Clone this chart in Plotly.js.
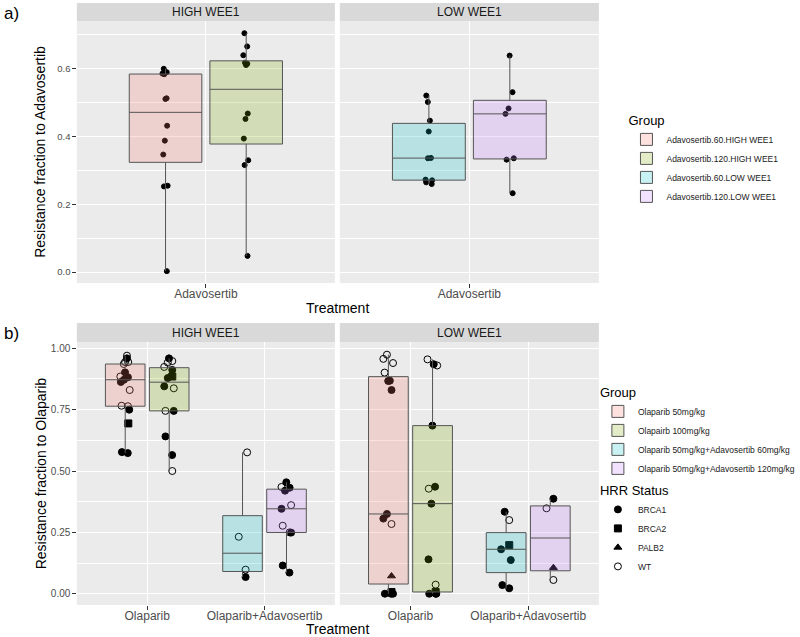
<!DOCTYPE html>
<html><head><meta charset="utf-8">
<script src="https://cdn.plot.ly/plotly-3.0.1.min.js"></script>
<style>html,body{margin:0;padding:0;background:#fff}</style>
</head><body><div id="chart" style="width:800px;height:637px"></div>
<script>
// ---------- Panel a data ----------
const aFacets = ['HIGH WEE1', 'LOW WEE1'];
const aTreatment = ['Adavosertib'];
const aGroups = ['Adavosertib.60.HIGH WEE1', 'Adavosertib.120.HIGH WEE1', 'Adavosertib.60.LOW WEE1', 'Adavosertib.120.LOW WEE1'];
const aGroupFacet = ['HIGH WEE1', 'HIGH WEE1', 'LOW WEE1', 'LOW WEE1'];
const aAdav60High = [0.600, 0.590, 0.586, 0.584, 0.513, 0.511, 0.432, 0.388, 0.347, 0.255, 0.253, 0.003];
const aAdav120High = [0.705, 0.666, 0.640, 0.618, 0.615, 0.611, 0.468, 0.452, 0.394, 0.330, 0.316, 0.048];
const aAdav60Low = [0.521, 0.502, 0.447, 0.415, 0.337, 0.336, 0.273, 0.271, 0.265, 0.260];
const aAdav120Low = [0.639, 0.531, 0.483, 0.467, 0.336, 0.332, 0.233];
const aYTicks = [0.0, 0.2, 0.4, 0.6];

// ---------- Panel b data ----------
const bFacets = ['HIGH WEE1', 'LOW WEE1'];
const bTreatments = ['Olaparib', 'Olaparib+Adavosertib'];
const bGroups = ['Olaparib 50mg/kg', 'Olapairb 100mg/kg', 'Olaparib 50mg/kg+Adavosertib 60mg/kg', 'Olaparib 50mg/kg+Adavosertib 120mg/kg'];
const bGroupTreatment = ['Olaparib', 'Olaparib', 'Olaparib+Adavosertib', 'Olaparib+Adavosertib'];
const hrrLevels = ['BRCA1', 'BRCA2', 'PALB2', 'WT'];
const bYTicks = [0.00, 0.25, 0.50, 0.75, 1.00];

// HIGH WEE1
const bOla50HighVal = [0.970, 0.959, 0.944, 0.936, 0.944, 0.902, 0.885, 0.882, 0.863, 0.872, 0.830, 0.766, 0.764, 0.750, 0.694, 0.573, 0.577];
const bOla50HighHrr = ['WT', 'BRCA1', 'WT', 'WT', 'WT', 'BRCA1', 'WT', 'BRCA1', 'BRCA1', 'BRCA1', 'WT', 'WT', 'WT', 'BRCA1', 'BRCA2', 'BRCA1', 'BRCA1'];
const bOla100HighVal = [0.959, 0.948, 0.942, 0.924, 0.912, 0.879, 0.885, 0.837, 0.845, 0.745, 0.745, 0.641, 0.565, 0.500];
const bOla100HighHrr = ['BRCA1', 'WT', 'WT', 'WT', 'BRCA1', 'BRCA1', 'BRCA2', 'WT', 'BRCA1', 'BRCA1', 'WT', 'BRCA1', 'BRCA1', 'WT'];
const bCombo60HighVal = [0.576, 0.232, 0.098, 0.068];
const bCombo60HighHrr = ['WT', 'WT', 'WT', 'BRCA1'];
const bCombo120HighVal = [0.454, 0.435, 0.432, 0.420, 0.361, 0.346, 0.277, 0.249, 0.250, 0.115, 0.086];
const bCombo120HighHrr = ['BRCA1', 'WT', 'BRCA1', 'BRCA1', 'WT', 'BRCA1', 'WT', 'BRCA1', 'WT', 'BRCA1', 'BRCA1'];
// LOW WEE1
const bOla50LowVal = [0.974, 0.957, 0.940, 0.901, 0.868, 0.867, 0.830, 0.325, 0.306, 0.284, 0.072, 0.000, 0.000, 0.000, 0.007];
const bOla50LowHrr = ['WT', 'WT', 'WT', 'WT', 'BRCA1', 'BRCA1', 'BRCA1', 'BRCA1', 'BRCA1', 'WT', 'PALB2', 'BRCA1', 'BRCA1', 'BRCA1', 'BRCA2'];
const bOla100LowVal = [0.955, 0.935, 0.930, 0.685, 0.436, 0.428, 0.367, 0.140, 0.037, 0.000, 0.000, 0.000, 0.007];
const bOla100LowHrr = ['WT', 'BRCA1', 'WT', 'BRCA1', 'BRCA1', 'WT', 'BRCA1', 'BRCA1', 'WT', 'BRCA1', 'BRCA1', 'BRCA1', 'BRCA2'];
const bCombo60LowVal = [0.334, 0.300, 0.198, 0.181, 0.137, 0.035, 0.022];
const bCombo60LowHrr = ['BRCA1', 'WT', 'BRCA2', 'BRCA1', 'BRCA1', 'BRCA1', 'BRCA1'];
const bCombo120LowVal = [0.387, 0.348, 0.106, 0.056];
const bCombo120LowHrr = ['BRCA1', 'WT', 'PALB2', 'WT'];

// ---------- styling ----------
const groupFills = ['rgba(248,118,109,0.22)', 'rgba(124,174,0,0.22)', 'rgba(0,191,196,0.22)', 'rgba(199,124,255,0.22)'];
const hrrSymbols = {BRCA1: 'circle', BRCA2: 'square', PALB2: 'triangle-up', WT: 'circle-open'};
const FONT = 'Liberation Sans, Arial, sans-serif';
const W = 800, H = 637;
const BOXLINE = '#555555';

// R type-7 quantile and Tukey whiskers (ggplot's stat_boxplot)
function quant(sorted, p) {
  const h = (sorted.length - 1) * p, lo = Math.floor(h);
  const hi = Math.min(lo + 1, sorted.length - 1);
  return sorted[lo] + (h - lo) * (sorted[hi] - sorted[lo]);
}
function boxStats(vals) {
  const s = [...vals].sort((a, b) => a - b);
  const q1 = quant(s, 0.25), med = quant(s, 0.5), q3 = quant(s, 0.75);
  const iqr = q3 - q1;
  const lo = Math.min(...s.filter(v => v >= q1 - 1.5 * iqr));
  const hi = Math.max(...s.filter(v => v <= q3 + 1.5 * iqr));
  return {q1, med, q3, lo, hi};
}

const pointTraces = [];
const boxTraces = [];
const legendTraces = [];

function addGroup(vals, hrr, cat, xa, ya, og, ag, gi, name, legend, showlegend, msize, jitter) {
  const levels = hrrLevels.filter(l => hrr.includes(l));
  levels.forEach(l => {
    const ys = vals.filter((v, i) => hrr[i] === l);
    pointTraces.push({
      type: 'box', x: ys.map(() => cat), y: ys, xaxis: xa, yaxis: ya,
      offsetgroup: og, alignmentgroup: ag,
      boxpoints: 'all', jitter: jitter, pointpos: 0,
      fillcolor: 'rgba(0,0,0,0)', line: {width: 0, color: 'rgba(0,0,0,0)'}, whiskerwidth: 0,
      marker: {symbol: hrrSymbols[l], size: msize, color: '#000000', line: {width: 1, color: '#000000'}},
      showlegend: false, hoverinfo: 'y', name: name + ' ' + l
    });
  });
  const st = boxStats(vals);
  boxTraces.push({
    type: 'box', name: name, x: [cat], q1: [st.q1], median: [st.med], q3: [st.q3],
    lowerfence: [st.lo], upperfence: [st.hi], xaxis: xa, yaxis: ya,
    offsetgroup: og, alignmentgroup: ag, boxpoints: false,
    fillcolor: groupFills[gi], line: {color: BOXLINE, width: 1}, whiskerwidth: 0,
    legend: legend, showlegend: showlegend, legendgroup: legend + name
  });
}

// Panel a (all points are plain dots)
const allDots = v => v.map(() => 'BRCA1');
const aVals = [aAdav60High, aAdav120High, aAdav60Low, aAdav120Low];
aVals.forEach((vals, gi) => {
  const facetIdx = aFacets.indexOf(aGroupFacet[gi]);
  const xa = facetIdx === 0 ? 'x' : 'x2', ya = facetIdx === 0 ? 'y' : 'y2';
  const og = 'a' + facetIdx + '_' + (gi % 2);
  addGroup(vals, allDots(vals), aTreatment[0], xa, ya, og, 'a' + facetIdx, gi, aGroups[gi], 'legend', true, 5, 0.15);
});

// Panel b
const bData = [
  [[bOla50HighVal, bOla50HighHrr], [bOla100HighVal, bOla100HighHrr], [bCombo60HighVal, bCombo60HighHrr], [bCombo120HighVal, bCombo120HighHrr]],
  [[bOla50LowVal, bOla50LowHrr], [bOla100LowVal, bOla100LowHrr], [bCombo60LowVal, bCombo60LowHrr], [bCombo120LowVal, bCombo120LowHrr]]
];
bData.forEach((facet, fi) => {
  const xa = fi === 0 ? 'x3' : 'x4', ya = fi === 0 ? 'y3' : 'y4';
  facet.forEach(([vals, hrr], gi) => {
    const og = 'b' + fi + '_' + (gi % 2);
    addGroup(vals, hrr, bGroupTreatment[gi], xa, ya, og, 'b' + fi, gi, bGroups[gi], 'legend2', fi === 0, 7, 0.3);
  });
});

// HRR status legend entries
hrrLevels.forEach(l => {
  legendTraces.push({
    type: 'scatter', mode: 'markers', x: [null], y: [null], xaxis: 'x3', yaxis: 'y3',
    name: l, legend: 'legend3', hoverinfo: 'skip',
    marker: {symbol: hrrSymbols[l], size: 7, color: '#000000', line: {width: 1, color: '#000000'}}
  });
});

const data = [...pointTraces, ...boxTraces, ...legendTraces];

// ---------- layout ----------
const px = v => v / W, py = v => 1 - v / H;
const tickFontX = {family: FONT, size: 12, color: '#4d4d4d'};
function xAxis(domain, anchor, cats) {
  return {
    domain: domain, anchor: anchor, type: 'category', categoryorder: 'array', categoryarray: cats,
    range: [-0.6, cats.length - 0.4], showgrid: true, gridcolor: '#ffffff', gridwidth: 1.1,
    zeroline: false, showline: false, ticks: 'outside', ticklen: 3.5, tickwidth: 1, tickcolor: '#333333',
    tickfont: tickFontX, ticklabelstandoff: -4, fixedrange: true
  };
}
function yAxis(domain, anchor, range, ticks, fmt, minorStep, showLabels, title, tsize, standoff) {
  const ax = {
    domain: domain, anchor: anchor, range: range, tickmode: 'array', tickvals: ticks,
    ticktext: ticks.map(v => v.toFixed(fmt)),
    showgrid: true, gridcolor: '#ffffff', gridwidth: 1.1, zeroline: false, showline: false,
    minor: {dtick: minorStep, tick0: 0, showgrid: true, gridcolor: '#ffffff', gridwidth: 0.5, ticks: ''},
    ticks: showLabels ? 'outside' : '', ticklen: 3.5, tickwidth: 1, tickcolor: '#333333',
    showticklabels: showLabels, tickfont: {family: FONT, size: tsize, color: '#4d4d4d'}, fixedrange: true
  };
  if (title) ax.title = {text: title, font: {family: FONT, size: 14, color: '#000000'}, standoff: standoff};
  return ax;
}

const aY = [py(283), py(21)];
const bY = [py(605), py(342.3)];
const hiX = [px(78), px(340)];
const loX = [px(345), px(608)];
const aRange = [-0.032, 0.741];
const bRange = [-0.046, 1.0245];

const shapes = [];
const annotations = [];
function strip(xr, top, bottom, label) {
  shapes.push({type: 'rect', xref: 'paper', yref: 'paper', x0: xr[0], x1: xr[1], y0: py(bottom), y1: py(top),
    fillcolor: '#d9d9d9', line: {width: 0}, layer: 'below'});
  annotations.push({xref: 'paper', yref: 'paper', x: (xr[0] + xr[1]) / 2, y: py((top + bottom) / 2),
    text: label, showarrow: false, xanchor: 'center', yanchor: 'middle',
    font: {family: FONT, size: 12, color: '#1a1a1a'}});
}
strip(hiX, 3, 21, aFacets[0]);
strip(loX, 3, 21, aFacets[1]);
strip(hiX, 323, 342.3, bFacets[0]);
strip(loX, 323, 342.3, bFacets[1]);

annotations.push({xref: 'paper', yref: 'paper', x: px(2), y: py(13), text: 'a)', showarrow: false,
  xanchor: 'left', yanchor: 'middle', font: {family: FONT, size: 17, color: '#000000'}});
annotations.push({xref: 'paper', yref: 'paper', x: px(2), y: py(333), text: 'b)', showarrow: false,
  xanchor: 'left', yanchor: 'middle', font: {family: FONT, size: 17, color: '#000000'}});
annotations.push({xref: 'paper', yref: 'paper', x: px(343), y: py(308), text: 'Treatment', showarrow: false,
  xanchor: 'center', yanchor: 'middle', font: {family: FONT, size: 14, color: '#000000'}});
annotations.push({xref: 'paper', yref: 'paper', x: px(343), y: py(629), text: 'Treatment', showarrow: false,
  xanchor: 'center', yanchor: 'middle', font: {family: FONT, size: 14, color: '#000000'}});

const legendBase = {
  xanchor: 'left', yanchor: 'top', bgcolor: 'rgba(0,0,0,0)', borderwidth: 0,
  font: {family: FONT, size: 8.5, color: '#1a1a1a'}, tracegroupgap: 0, itemclick: false, itemdoubleclick: false
};

const layout = {
  width: W, height: H, margin: {l: 0, r: 0, t: 0, b: 0},
  paper_bgcolor: '#ffffff', plot_bgcolor: '#ebebeb',
  font: {family: FONT, color: '#1a1a1a'},
  boxmode: 'group', boxgap: 0.25, boxgroupgap: 0.1,
  xaxis: xAxis(hiX, 'y', aTreatment),
  yaxis: yAxis(aY, 'x', aRange, aYTicks, 1, 0.1, true, 'Resistance fraction to Adavosertib', 9.5, 8),
  xaxis2: xAxis(loX, 'y2', aTreatment),
  yaxis2: yAxis(aY, 'x2', aRange, aYTicks, 1, 0.1, false, null, 9.5, 0),
  xaxis3: xAxis(hiX, 'y3', bTreatments),
  yaxis3: yAxis(bY, 'x3', bRange, bYTicks, 2, 0.125, true, 'Resistance fraction to Olaparib', 10, 0),
  xaxis4: xAxis(loX, 'y4', bTreatments),
  yaxis4: yAxis(bY, 'x4', bRange, bYTicks, 2, 0.125, false, null, 10, 0),
  shapes: shapes, annotations: annotations,
  legend: Object.assign({}, legendBase, {x: px(636), y: py(108), title: {text: 'Group', font: {family: FONT, size: 13, color: '#000000'}}}),
  legend2: Object.assign({}, legendBase, {x: px(607), y: py(380), title: {text: 'Group', font: {family: FONT, size: 13, color: '#000000'}}}),
  legend3: Object.assign({}, legendBase, {x: px(607), y: py(478), title: {text: 'HRR Status', font: {family: FONT, size: 13, color: '#000000'}}}),
  showlegend: true
};

Plotly.newPlot('chart', data, layout, {displayModeBar: false});
</script>
</body></html>
